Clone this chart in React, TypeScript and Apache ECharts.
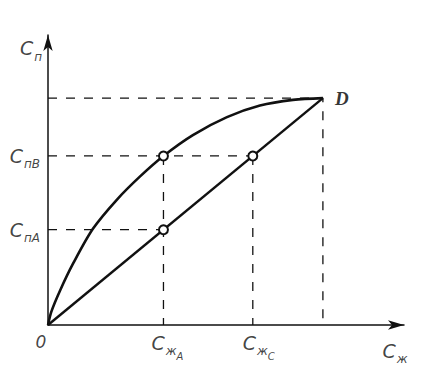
import React, { useEffect, useRef } from "react";
import * as echarts from "echarts";

// Equilibrium curve (vapour vs liquid concentration), normalised so D = (1, 1)
const curveX = [0, 0.012, 0.044, 0.091, 0.164, 0.251, 0.335, 0.42, 0.527, 0.651, 0.771, 0.891, 1];
const curveY = [0, 0.058, 0.152, 0.27, 0.425, 0.553, 0.655, 0.745, 0.837, 0.916, 0.967, 0.992, 1];
// Straight (diagonal) line O–D
const lineX = [0, 1];
const lineY = [0, 1];
// Marked concentrations
const cZhA = 0.42;
const cZhC = 0.745;
const cPA = 0.42;
const cPB = 0.745;
const pointD = [1, 1];
const xMax = 1.295;
const yMax = 1.278;

export default function App() {
  const ref = useRef<HTMLDivElement>(null);
  useEffect(() => {
    if (!ref.current) return;
    const chart = echarts.init(ref.current, undefined, { renderer: "svg" });
    const font = "DejaVu Sans";
    const rich = {
      c: { fontSize: 19, fontStyle: "italic", fontFamily: font, color: "#111", verticalAlign: "bottom" },
      s: { fontSize: 12, fontStyle: "italic", fontFamily: font, color: "#111", verticalAlign: "bottom", padding: [0, 0, -5, 1] },
      ss: { fontSize: 10, fontStyle: "italic", fontFamily: font, color: "#111", verticalAlign: "bottom", padding: [0, 0, -9, 0] },
    };
    const dash = { color: "#111", width: 1.3, type: [9, 9] };
    const dashed = (pts: number[][]) => ({
      type: "line",
      data: pts,
      symbol: "none",
      silent: true,
      lineStyle: dash,
      z: 1,
    });
    const lbl = (pt: number[], text: string, position: any, offset: number[] = [0, 0], distance = 6) => ({
      value: pt,
      label: { show: true, formatter: text, position, offset, distance, rich },
    });
    chart.setOption({
      animation: false,
      backgroundColor: "#fff",
      grid: { left: 48, right: 28, top: 35, bottom: 51, containLabel: false },
      xAxis: {
        type: "value",
        min: 0,
        max: xMax,
        splitLine: { show: false },
        axisTick: { show: false },
        axisLabel: { show: false },
        axisLine: { lineStyle: { color: "#111", width: 1.5 }, symbol: ["none", "arrow"], symbolSize: [7, 16] },
      },
      yAxis: {
        type: "value",
        min: 0,
        max: yMax,
        splitLine: { show: false },
        axisTick: { show: false },
        axisLabel: { show: false },
        axisLine: { lineStyle: { color: "#111", width: 1.5 }, symbol: ["none", "arrow"], symbolSize: [7, 16] },
      },
      series: [
        dashed([[0, pointD[1]], pointD, [pointD[0], 0]]),
        dashed([[0, cPB], [cZhC, cPB]]),
        dashed([[cZhA, cPB], [cZhA, 0]]),
        dashed([[cZhC, cPB], [cZhC, 0]]),
        dashed([[0, cPA], [cZhA, cPA]]),
        {
          type: "line",
          smooth: 0.3,
          symbol: "none",
          data: curveX.map((x, i) => [x, curveY[i]]),
          lineStyle: { color: "#111", width: 2.6 },
          z: 3,
        },
        {
          type: "line",
          symbol: "none",
          data: lineX.map((x, i) => [x, lineY[i]]),
          lineStyle: { color: "#111", width: 2.4 },
          z: 3,
        },
        {
          type: "scatter",
          symbol: "circle",
          symbolSize: 9,
          itemStyle: { color: "#fff", borderColor: "#111", borderWidth: 2, opacity: 1 },
          data: [[cZhA, cPB], [cZhC, cPB], [cZhA, cPA]],
          z: 5,
        },
        {
          type: "scatter",
          symbolSize: 0,
          clip: false,
          silent: true,
          z: 6,
          data: [
            lbl([0, 1.22], "{c|C}{s|п}", "left", [0, 0], 6),
            lbl([0, cPB], "{c|C}{s|пB}", "left", [0, 0], 8),
            lbl([0, cPA], "{c|C}{s|пA}", "left", [0, 0], 8),
            lbl([0, 0], "0", "bottom", [-7, 2], 6),
            lbl([cZhA, 0], "{c|C}{s|ж}{ss|A}", "bottom", [4, 0], 8),
            lbl([cZhC, 0], "{c|C}{s|ж}{ss|C}", "bottom", [6, 0], 8),
            lbl([1.262, 0], "{c|C}{s|ж}", "bottom", [0, 8], 8),
            {
              value: pointD,
              label: {
                show: true,
                formatter: "D",
                position: "right",
                distance: 12,
                fontSize: 19,
                fontStyle: "italic",
                fontWeight: "bold",
                fontFamily: "Liberation Serif",
                color: "#000",
              },
            },
          ],
          label: { fontSize: 17, fontStyle: "italic", fontFamily: font, color: "#111" },
        },
      ],
    });
    return () => chart.dispose();
  }, []);
  return <div ref={ref} style={{ width: 432, height: 376, margin: -8 }} />;
}
